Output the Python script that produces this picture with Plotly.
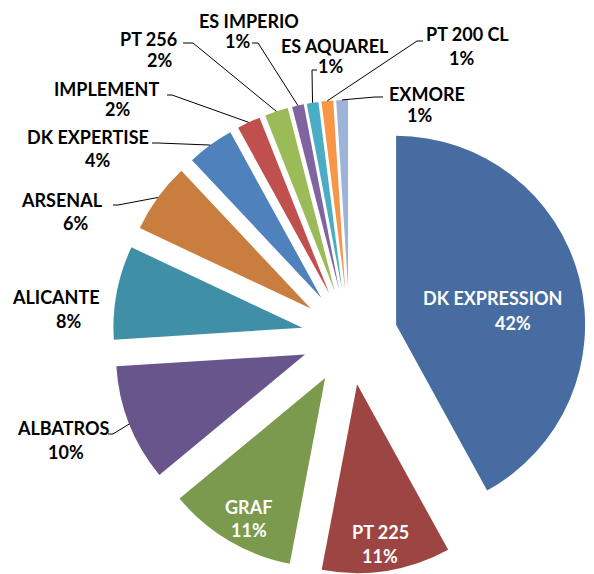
import math
import plotly.graph_objects as go

# ---------------- data ----------------
labels = ["DK EXPRESSION", "PT 225", "GRAF", "ALBATROS", "ALICANTE", "ARSENAL",
          "DK EXPERTISE", "IMPLEMENT", "PT 256", "ES IMPERIO", "ES AQUAREL",
          "PT 200 CL", "EXMORE"]
values = [42, 11, 11, 10, 8, 6, 4, 2, 2, 1, 1, 1, 1]

# ---------------- style ----------------
colors = ["#466CA2", "#9C4543", "#7C9A4E", "#68558B", "#3F8FA7", "#C97D3E",
          "#4F81BD", "#C0504D", "#9BBB59", "#8064A2", "#4BACC6", "#F79646",
          "#9EB3D8"]

# the page body has an 8px margin, so the figure is sized to fit the window
OFF = 8
W, H = 594 - OFF, 574 - OFF
# pie geometry in window pixels
CX, CY, R, PULL = 349.6, 336.8, 189.0, 0.254
FONT = "Lato"
FSIZE = 18

# label text centres (window px) and leader-line start/bend (window px)
label_layout = {
    "DK EXPRESSION": dict(name=(492, 298), pct=(513, 323), color="white", leader=None),
    "PT 225":        dict(name=(380, 532), pct=(380, 556), color="white", leader=None),
    "GRAF":          dict(name=(248, 507), pct=(249, 530), color="white", leader=None),
    "ALBATROS":      dict(name=(63, 428), pct=(66, 452), color="black", leader=((108, 434), (113, 434))),
    "ALICANTE":      dict(name=(56, 297), pct=(68, 321), color="black", leader=None),
    "ARSENAL":       dict(name=(62, 200), pct=(75, 223), color="black", leader=((113, 205), (118, 205))),
    "DK EXPERTISE":  dict(name=(88, 137), pct=(97, 160), color="black", leader=((152, 143), (158, 143))),
    "IMPLEMENT":     dict(name=(106, 89), pct=(117, 109), color="black", leader=((167, 95), (172, 95))),
    "PT 256":        dict(name=(148, 39), pct=(159, 60), color="black", leader=((183, 43), (193, 43))),
    "ES IMPERIO":    dict(name=(249, 21), pct=(237, 41), color="black", leader=((252, 43), (258, 43))),
    "ES AQUAREL":    dict(name=(335, 46), pct=(330, 66), color="black", leader=((317, 70), (312, 70))),
    "PT 200 CL":     dict(name=(467, 34), pct=(461, 58), color="black", leader=((423, 41), (417, 41))),
    "EXMORE":        dict(name=(427, 94), pct=(419, 115), color="black", leader=((383, 97), (375, 97))),
}


def px2paper(x, y):
    return (x - OFF) / W, 1 - (y - OFF) / H


half = R * (1 + PULL)
fx0, fy_top = px2paper(CX - half, CY - half)
fx1, fy_bot = px2paper(CX + half, CY + half)
dom_x = [max(0.0, fx0), min(1.0, fx1)]
dom_y = [max(0.0, fy_bot), min(1.0, fy_top)]

fig = go.Figure(go.Pie(
    labels=labels,
    values=values,
    sort=False,
    direction="clockwise",
    rotation=0,
    pull=[PULL] * len(values),
    marker=dict(colors=colors, line=dict(width=0)),
    textinfo="none",
    showlegend=False,
    domain=dict(x=dom_x, y=dom_y),
))

total = sum(values)
annotations = []
shapes = []
cum = 0.0
for lab, v in zip(labels, values):
    mid = math.radians((cum + v / 2) / total * 360)
    cum += v
    pct = round(v / total * 100)
    spec = label_layout[lab]
    for txt, pos in ((lab, spec["name"]), (f"{pct}%", spec["pct"])):
        x, y = px2paper(*pos)
        annotations.append(dict(
            x=x, y=y, xref="paper", yref="paper", text=txt, showarrow=False,
            xanchor="center", yanchor="middle",
            font=dict(family=FONT, size=FSIZE, color=spec["color"], weight="bold"),
        ))
    if spec["leader"]:
        ax_ = CX + (1 + PULL) * R * math.sin(mid)
        ay_ = CY - (1 + PULL) * R * math.cos(mid)
        (sx, sy), (bx, by) = spec["leader"]
        p0 = px2paper(sx, sy)
        p1 = px2paper(bx, by)
        p2 = px2paper(ax_, ay_)
        shapes.append(dict(
            type="path", xref="paper", yref="paper",
            path=f"M {p0[0]},{p0[1]} L {p1[0]},{p1[1]} L {p2[0]},{p2[1]}",
            line=dict(color="black", width=1),
        ))

fig.update_layout(
    width=W, height=H,
    margin=dict(l=0, r=0, t=0, b=0),
    paper_bgcolor="white",
    plot_bgcolor="white",
    annotations=annotations,
    shapes=shapes,
)

fig.write_html("out.html")
